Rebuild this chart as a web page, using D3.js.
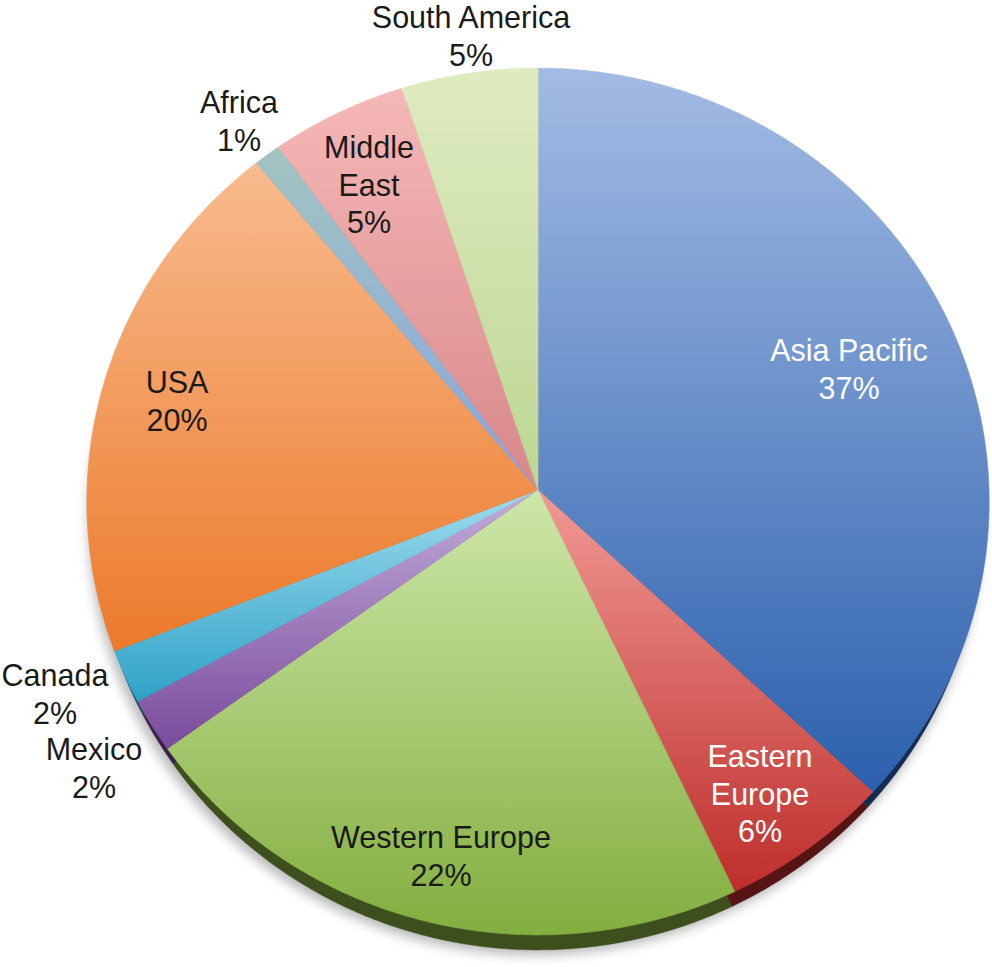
<!DOCTYPE html>
<html lang="en">
<head>
<meta charset="UTF-8">
<title>Share by region</title>
<script src="https://d3js.org/d3.v7.min.js"></script>
<style>
  body { margin: 0; background: #fff; }
  svg { display: block; font-family: "Liberation Sans", Arial, sans-serif; }
</style>
</head>
<body>
<div id="chart"></div>
<script>
// data, clockwise from 12 o'clock
const regions = ["Asia Pacific", "Eastern Europe", "Western Europe", "Mexico", "Canada", "USA", "Africa", "Middle East", "South America"];
const shares = [37, 6, 22, 2, 2, 20, 1, 5, 5];

// gradient ends for each slice (top of slice -> bottom of slice)
const topColors = ["#a3bbe4", "#f29995", "#cde7a8", "#c2acd8", "#9edbec", "#f8bb8f", "#a3c4c0", "#f5b8b6", "#dfebc0"];
const bottomColors = ["#2b60ad", "#bd2e2b", "#83ae3f", "#7a4b9d", "#2ea2c8", "#ec7a2a", "#86a6e2", "#d8878a", "#bbd692"];

// label placement (centre x, first baseline) and line breaks
const labelAt = {
  "Asia Pacific": [849, 361],
  "Eastern Europe": [760, 767],
  "Western Europe": [441, 848],
  "Mexico": [94, 760],
  "Canada": [55, 686],
  "USA": [177, 393],
  "Africa": [239, 113],
  "Middle East": [369, 158],
  "South America": [471, 28]
};
const labelLines = { "Eastern Europe": ["Eastern", "Europe"], "Middle East": ["Middle", "East"] };
const whiteLabels = ["Asia Pacific", "Eastern Europe"];

const width = 992, height = 967;
const cx = 538, cy = 490, R = 451;
const tilt = 16.2 * Math.PI / 180, dist = 4740;

const svg = d3.select("#chart").append("svg")
  .attr("width", width)
  .attr("height", height);

const defs = svg.append("defs");

// slight perspective: pie plane tilted away from the viewer
function projector(ox, oy, sx) {
  const s = Math.sin(tilt), c = Math.cos(tilt);
  return (x, y) => {
    const k = dist / (dist - y * s);
    return [ox + x * k * sx, oy + y * c * k];
  };
}

const arc = d3.arc().innerRadius(0).outerRadius(R);

// run d3.arc through a context that projects every point
function projectedPath(d, proj) {
  let str = "", started = false;
  const pt = (x, y) => {
    const p = proj(x, y);
    str += (started ? "L" : "M") + p[0].toFixed(2) + "," + p[1].toFixed(2);
    started = true;
  };
  const ctx = {
    moveTo(x, y) { started = false; pt(x, y); },
    lineTo(x, y) { pt(x, y); },
    arc(x, y, r, a0, a1, ccw) {
      if (!ccw && a1 < a0) a1 += 2 * Math.PI;
      if (ccw && a1 > a0) a1 -= 2 * Math.PI;
      const n = Math.max(2, Math.ceil(Math.abs(a1 - a0) / 0.01));
      for (let i = 0; i <= n; i++) {
        const a = a0 + (a1 - a0) * i / n;
        pt(x + r * Math.cos(a), y + r * Math.sin(a));
      }
    },
    closePath() { str += "Z"; }
  };
  arc.context(ctx)(d);
  return str;
}

const pie = d3.pie().sort(null).value(d => d);
const slices = pie(shares);
const whole = { startAngle: 0, endAngle: 2 * Math.PI };

// soft shadow under the pie
const blur = defs.append("filter").attr("id", "blur")
  .attr("x", "-10%").attr("y", "-10%").attr("width", "120%").attr("height", "120%");
blur.append("feGaussianBlur").attr("stdDeviation", 6);

svg.append("path")
  .attr("d", projectedPath(whole, projector(cx - 3, cy + 20, 0.99)))
  .attr("fill", "#000")
  .attr("opacity", 0.28)
  .attr("filter", "url(#blur)");

// side wall of the disc
const rimProj = projector(cx, cy + 15, 0.985);
svg.append("g").selectAll("path")
  .data(slices)
  .join("path")
  .attr("d", d => projectedPath(d, rimProj))
  .attr("fill", (d, i) => d3.color(bottomColors[i]).darker(2.2))
  .attr("stroke", (d, i) => d3.color(bottomColors[i]).darker(2.2))
  .attr("stroke-width", 0.5);

// one vertical gradient per slice
slices.forEach((d, i) => {
  const g = defs.append("linearGradient")
    .attr("id", "grad" + i)
    .attr("x1", 0).attr("y1", 0).attr("x2", 0).attr("y2", 1);
  g.append("stop").attr("offset", "0%").attr("stop-color", topColors[i]);
  g.append("stop").attr("offset", "100%").attr("stop-color", bottomColors[i]);
});

const topProj = projector(cx, cy, 1);
svg.append("g").selectAll("path")
  .data(slices)
  .join("path")
  .attr("d", d => projectedPath(d, topProj))
  .attr("fill", (d, i) => "url(#grad" + i + ")")
  .attr("stroke", (d, i) => "url(#grad" + i + ")")
  .attr("stroke-width", 0.6);

// labels
const lineH = 37.5;
const labels = svg.append("g")
  .attr("font-size", "30.5px")
  .attr("text-anchor", "middle");

regions.forEach((name, i) => {
  const [lx, ly] = labelAt[name];
  const lines = (labelLines[name] || [name]).concat([shares[i] + "%"]);
  const t = labels.append("text")
    .attr("fill", whiteLabels.includes(name) ? "#ffffff" : "#1a1a1a");
  lines.forEach((s, j) => {
    t.append("tspan")
      .attr("x", lx)
      .attr("y", ly + j * lineH)
      .text(s);
  });
});
</script>
</body>
</html>
